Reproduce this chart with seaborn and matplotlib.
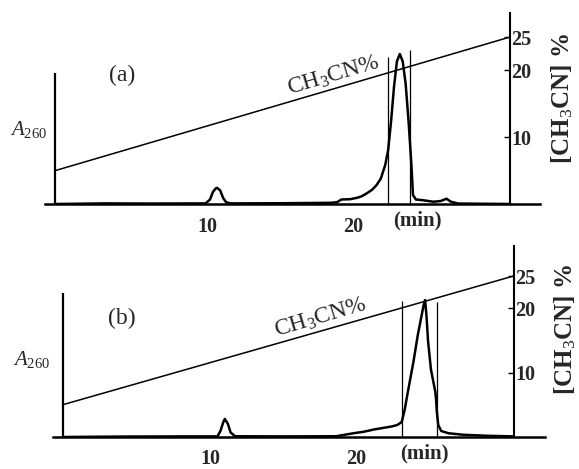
import numpy as np
import pandas as pd
import matplotlib
matplotlib.use("Agg")
import matplotlib.pyplot as plt
import seaborn as sns

# ---------------- data ----------------
# Panel (a) chromatogram: time (min) vs A260 (relative units)
time_a = [-0.4, 3.0, 6.0, 9.9, 10.2, 10.4, 10.6, 10.7, 10.9, 11.1, 11.3, 11.6, 15.0, 18.5,
          18.9, 19.2, 19.8, 20.3, 20.6, 21.0, 21.3, 21.6, 21.9, 22.2, 22.4, 22.6, 22.8,
          23.0, 23.2, 23.4, 23.6, 23.8, 24.0, 24.1, 24.3, 24.8, 25.5, 26.0, 26.4, 26.7,
          27.2, 30.75]
abs_a = [0.0, 0.004, 0.003, 0.004, 0.03, 0.08, 0.105, 0.107, 0.09, 0.04, 0.012, 0.004, 0.005, 0.008,
         0.012, 0.03, 0.032, 0.042, 0.052, 0.075, 0.095, 0.125, 0.17, 0.26, 0.36, 0.55, 0.78,
         0.95, 1.0, 0.95, 0.8, 0.55, 0.25, 0.06, 0.03, 0.025, 0.015, 0.02, 0.035, 0.015,
         0.003, 0.0]

# Panel (b) chromatogram
time_b = [-0.1, 4.0, 8.0, 10.5, 10.7, 10.9, 11.0, 11.2, 11.4, 11.7, 15.0, 18.6, 19.2, 19.8,
          20.5, 21.2, 21.8, 22.4, 22.8, 23.1, 23.3, 23.5, 23.9, 24.2, 24.4, 24.6, 24.7,
          24.8, 24.9, 25.1, 25.3, 25.4, 25.45, 25.5, 25.6, 25.8, 26.3, 27.3, 29.0, 30.75]
abs_b = [0.0, 0.003, 0.004, 0.004, 0.04, 0.10, 0.12, 0.09, 0.03, 0.005, 0.004, 0.005, 0.015, 0.025,
         0.035, 0.05, 0.06, 0.07, 0.08, 0.10, 0.18, 0.29, 0.50, 0.68, 0.78, 0.88, 0.913,
         0.80, 0.64, 0.45, 0.35, 0.30, 0.25, 0.17, 0.08, 0.04, 0.025, 0.015, 0.008, 0.004]

# Acetonitrile gradient (%)
grad_time_a = [-0.4, 30.75]
grad_time_b = [-0.1, 30.75]
grad_pct = [5, 25]

# fraction-collection marks (min) and their drawn heights
frac_a = [22.4, 23.9]
frac_a_top = [0.98, 1.03]
frac_b = [23.1, 25.5]
frac_b_top = [0.907, 0.90]

xticks = [10, 20]
xticklabels = ["10", "20"]
pct_ticks = [10, 20, 25]
pct_ticklabels = ["10", "20", "25"]

# ---------------- style ----------------
sns.set_style("white")
plt.rcParams["font.family"] = ["Liberation Serif", "DejaVu Serif"]
plt.rcParams["mathtext.fontset"] = "custom"
plt.rcParams["mathtext.rm"] = "Liberation Serif"
plt.rcParams["mathtext.it"] = "Liberation Serif:italic"
plt.rcParams["mathtext.bf"] = "Liberation Serif:bold"

W, H = 579, 469
fig = plt.figure(figsize=(W / 100, H / 100), dpi=100)
fig.patch.set_facecolor("white")


def rect(l, r, t, b):
    return [l / W, 1 - b / H, (r - l) / W, (b - t) / H]


def fp(x, y):
    return x / W, 1 - y / H


panels = [
    dict(rect=rect(45, 540, 13, 204), xlim=(-1.1, 32.8), t=time_a, a=abs_a,
         gt=grad_time_a, left=-0.4, left_top=0.873, pct_top=191 / 6.68,
         frac=frac_a, frac_top=frac_a_top, label="(a)", label_xy=(122, 75),
         A_xy=(29, 129), ylab_xy=(562, 99), min_xy=(417, 220),
         cn_xy=(289, 95)),
    dict(rect=rect(53, 545, 246, 437), xlim=(-0.75, 32.9), t=time_b, a=abs_b,
         gt=grad_time_b, left=-0.1, left_top=0.96, pct_top=191 / 6.44,
         frac=frac_b, frac_top=frac_b_top, label="(b)", label_xy=(122, 318),
         A_xy=(32, 359), ylab_xy=(565, 330), min_xy=(424, 453),
         cn_xy=(276, 337)),
]

ABS_TOP = 191 / 150

for p in panels:
    ax = fig.add_axes(p["rect"])
    ax.set_facecolor("none")
    df = pd.DataFrame({"t": p["t"], "A": p["a"]})
    sns.lineplot(data=df, x="t", y="A", ax=ax, color="black", lw=1.8, sort=False)
    ax.set_xlim(*p["xlim"])
    ax.set_ylim(0, ABS_TOP)
    ax.vlines(p["left"], 0, p["left_top"], color="black", lw=1.6)
    ax.vlines(p["frac"], 0, p["frac_top"], color="black", lw=0.9)
    for s in ["top", "left", "right"]:
        ax.spines[s].set_visible(False)
    ax.spines["bottom"].set_linewidth(1.8)
    ax.spines["bottom"].set_color("black")
    ax.set_yticks([])
    ax.set_xticks(xticks)
    ax.set_xticklabels(xticklabels, fontsize=14.5, fontweight="bold")
    ax.tick_params(axis="x", direction="out", length=5, width=1, pad=4, color="black")
    ax.set_xlabel("")
    ax.set_ylabel("")

    ax2 = ax.twinx()
    ax2.set_facecolor("none")
    gdf = pd.DataFrame({"t": p["gt"], "pct": grad_pct})
    sns.lineplot(data=gdf, x="t", y="pct", ax=ax2, color="black", lw=1.1)
    ax2.set_ylim(0, p["pct_top"])
    ax2.set_xlim(*p["xlim"])
    for s in ["top", "left", "bottom"]:
        ax2.spines[s].set_visible(False)
    ax2.spines["right"].set_position(("data", 30.75))
    ax2.spines["right"].set_linewidth(1.5)
    ax2.spines["right"].set_color("black")
    ax2.set_yticks(pct_ticks)
    ax2.set_yticklabels(pct_ticklabels, fontsize=14.5, fontweight="bold")
    ax2.tick_params(axis="y", direction="in", length=4, width=1, pad=1, color="black")
    ax2.set_xlabel("")
    ax2.set_ylabel("")

    fig.text(*fp(*p["label_xy"]), p["label"], fontsize=17, ha="center", va="center")
    fig.text(*fp(*p["A_xy"]), r"$A_{260}$", fontsize=15, ha="center", va="center")
    fig.text(*fp(*p["ylab_xy"]), r"[CH$_3$CN] %", fontsize=18, rotation=90,
             ha="center", va="center", fontweight="bold")
    fig.text(*fp(*p["min_xy"]), "(min)", fontsize=15, ha="center", va="center",
             fontweight="bold")
    fig.text(*fp(*p["cn_xy"]), r"CH$_3$CN%", fontsize=17, rotation=16.5,
             rotation_mode="anchor", ha="left", va="baseline")

fig.savefig("out.png", dpi=100, facecolor="white")
